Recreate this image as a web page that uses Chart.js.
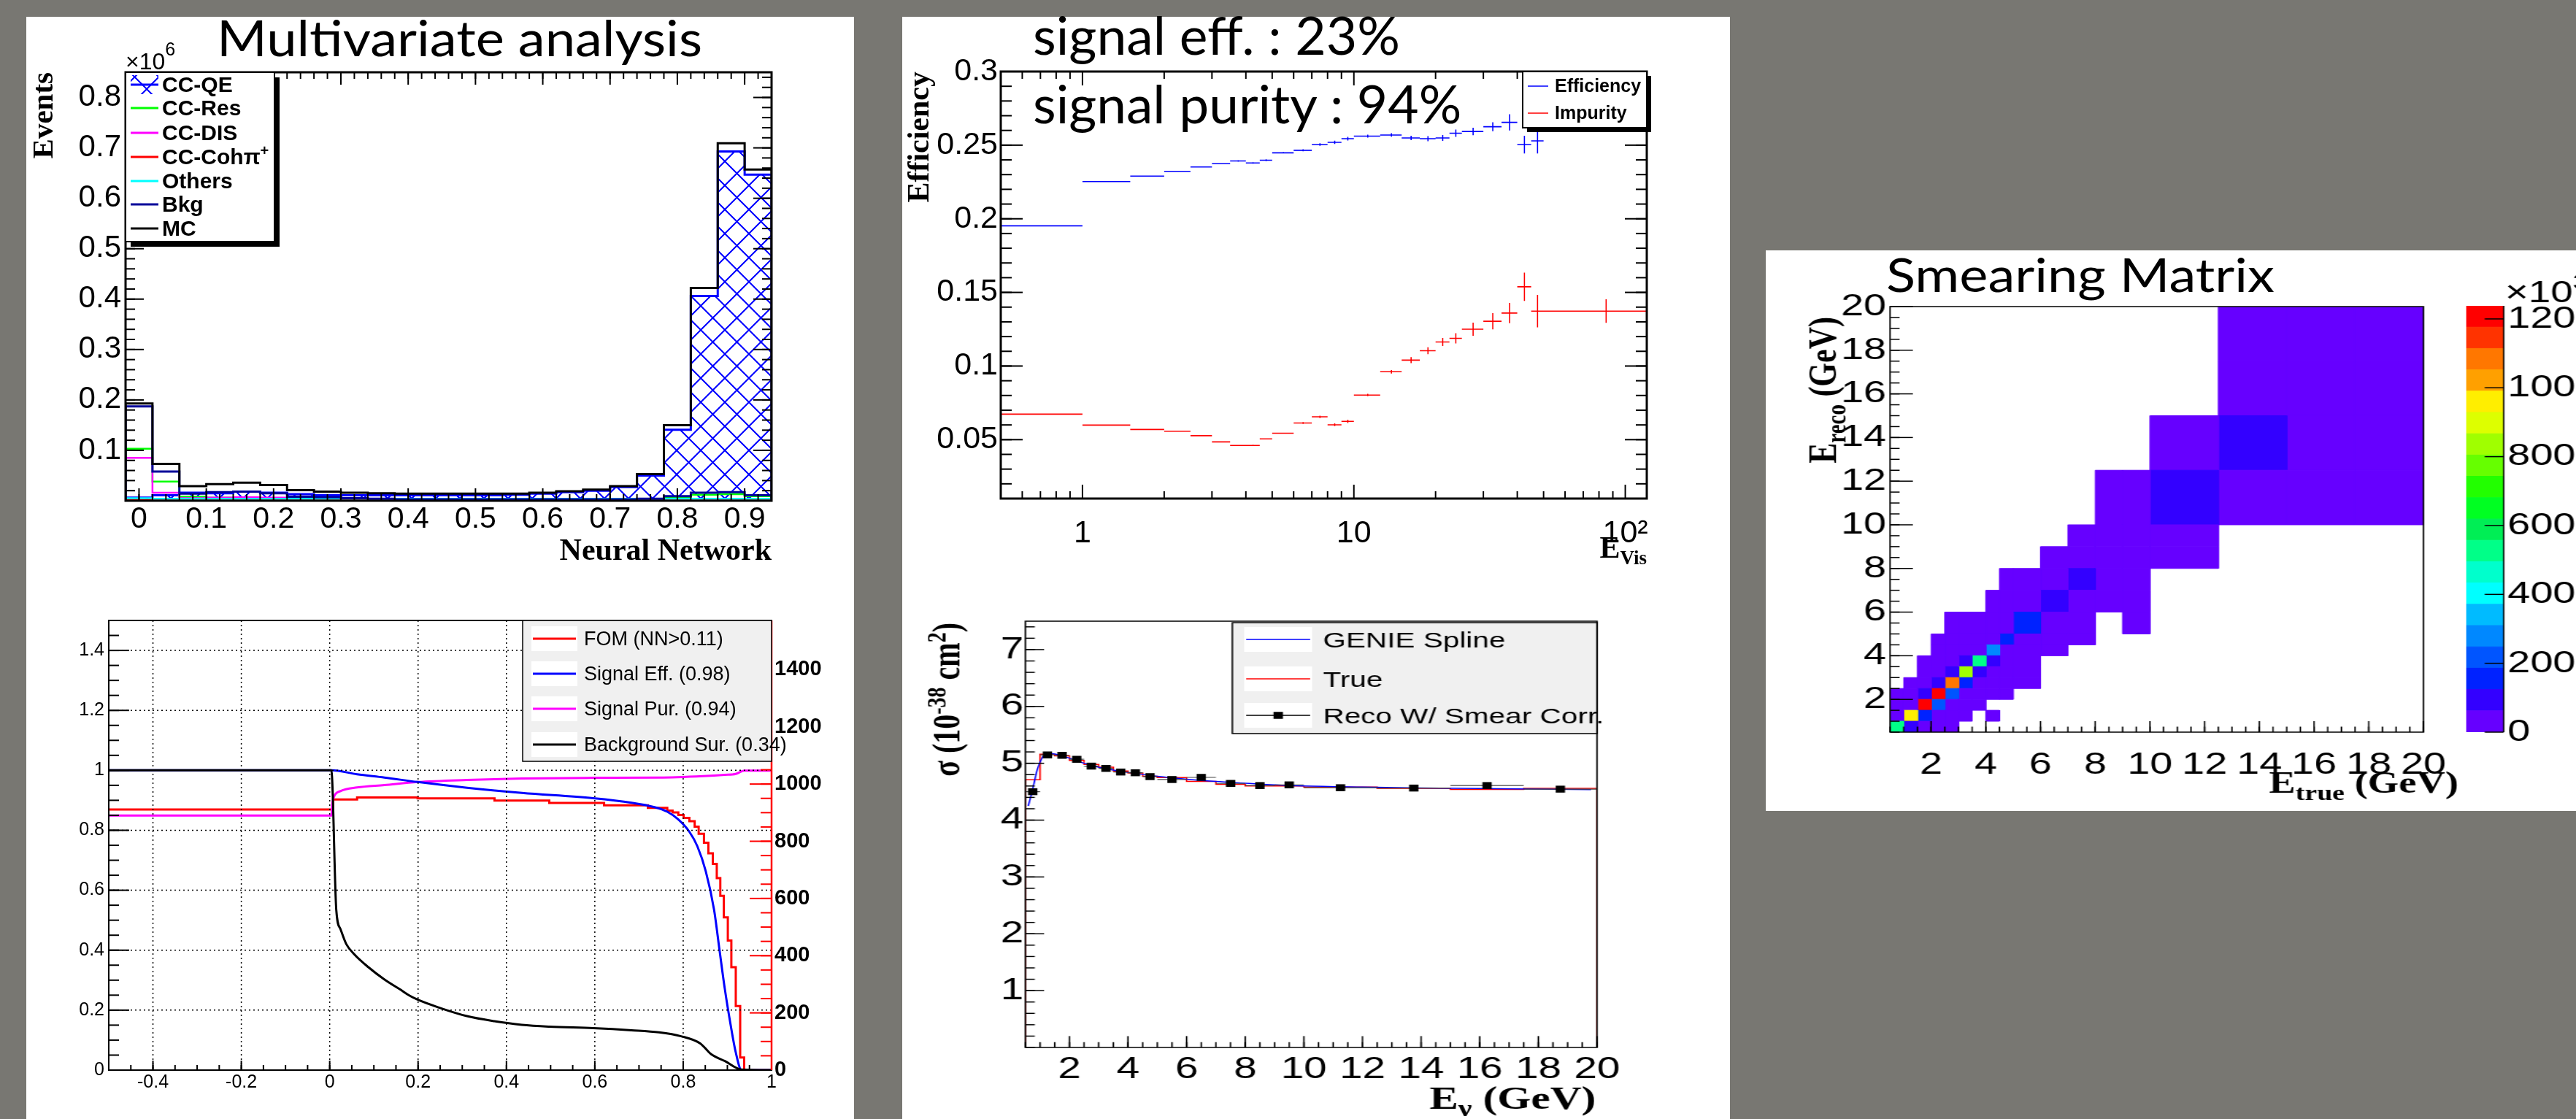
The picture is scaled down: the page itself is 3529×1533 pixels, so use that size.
<!DOCTYPE html>
<html>
<head>
<meta charset="utf-8">
<title>Multivariate analysis</title>
<script src="https://cdn.jsdelivr.net/npm/chart.js@4.4.1/dist/chart.umd.min.js"></script>
<style>
  html, body { margin: 0; padding: 0; }
  body { width: 3529px; height: 1533px; background: #787772; position: relative; overflow: hidden; }
  .panel { position: absolute; background: #fff; }
  .plot { position: absolute; transform-origin: 0 0; }
  .plot canvas { display: block; }
  .slide { position: absolute; white-space: nowrap; color: #000; font-family: Lato, "Open Sans", sans-serif;
           z-index: 5; transform-origin: 0 0; }
</style>
</head>
<body>
<div class="panel" style="left:36px;top:23px;width:1134px;height:1510px"></div>
<div class="panel" style="left:1236px;top:23px;width:1134px;height:1510px"></div>
<div class="panel" style="left:2419px;top:343px;width:1110px;height:768px"></div>

<div class="plot" style="left:36px;top:23px"><canvas id="nnHist" width="1134" height="767"></canvas></div>
<div class="plot" style="left:36px;top:776px"><canvas id="nnPerf" width="1134" height="757"></canvas></div>
<div class="plot" style="left:1236px;top:23px"><canvas id="effPlot" width="1134" height="767"></canvas></div>
<div class="plot" style="left:1236px;top:776px;transform:scaleX(1.35)"><canvas id="xsecPlot" width="840" height="757"></canvas></div>
<div class="plot" style="left:2419px;top:343px;transform:scaleX(1.3)"><canvas id="smearPlot" width="736" height="767"></canvas></div>
<div class="plot" style="left:3376px;top:343px;transform:scaleX(1.3)"><canvas id="smearScale" width="125" height="767"></canvas></div>

<script>
var SANS = '"Liberation Sans", Arial, sans-serif';
var NARROW = '"Liberation Sans Narrow", "Liberation Sans", Arial, sans-serif';
var SERIF = '"Liberation Serif", "Times New Roman", serif';
var SLIDE = 'Lato, "Open Sans", sans-serif';

// ---------- top left: neural network output (x10^6 events) ----------
var nnEdges = [-0.02, 0.02, 0.06, 0.10, 0.14, 0.18, 0.22, 0.26, 0.30, 0.34, 0.38, 0.42, 0.46,
               0.50, 0.54, 0.58, 0.62, 0.66, 0.70, 0.74, 0.78, 0.82, 0.86, 0.90, 0.94];
var mcEvents     = [0.193, 0.073, 0.029, 0.033, 0.036, 0.031, 0.021, 0.018, 0.016, 0.015, 0.014, 0.014,
                    0.014, 0.014, 0.014, 0.016, 0.019, 0.022, 0.029, 0.053, 0.150, 0.422, 0.709, 0.657];
var ccqeEvents   = [0.006, 0.011, 0.016, 0.015, 0.018, 0.016, 0.013, 0.011, 0.011, 0.011, 0.011, 0.011,
                    0.011, 0.011, 0.012, 0.014, 0.017, 0.020, 0.027, 0.050, 0.141, 0.406, 0.693, 0.647];
var bkgEvents    = [0.187, 0.058, 0.014, 0.017, 0.018, 0.015, 0.008, 0.007, 0.005, 0.004, 0.003, 0.003,
                    0.003, 0.003, 0.003, 0.003, 0.003, 0.003, 0.003, 0.004, 0.009, 0.016, 0.017, 0.011];
var ccresEvents  = [0.103, 0.038, 0.008, 0.006, 0.006, 0.005, 0.004, 0.003, 0.003, 0.002, 0.002, 0.002,
                    0.002, 0.002, 0.002, 0.002, 0.002, 0.002, 0.002, 0.003, 0.007, 0.012, 0.013, 0.009];
var ccdisEvents  = [0.085, 0.016, 0.005, 0.006, 0.007, 0.006, 0.003, 0.003, 0.002, 0.002, 0.002, 0.001,
                    0.001, 0.001, 0.001, 0.001, 0.001, 0.001, 0.001, 0.001, 0.001, 0.002, 0.002, 0.001];
var cccohEvents  = [0.002, 0.001, 0.001, 0.001, 0.001, 0.001, 0.001, 0.001, 0.001, 0.001, 0.001, 0.001,
                    0.001, 0.001, 0.001, 0.001, 0.001, 0.001, 0.001, 0.001, 0.001, 0.001, 0.001, 0.001];
var othersEvents = [0.005, 0.004, 0.004, 0.004, 0.004, 0.004, 0.004, 0.004, 0.004, 0.004, 0.004, 0.004,
                    0.004, 0.004, 0.004, 0.004, 0.004, 0.004, 0.004, 0.004, 0.004, 0.004, 0.004, 0.004];
var nnTicks = [0, 0.1, 0.2, 0.3, 0.4, 0.5, 0.6, 0.7, 0.8, 0.9];
var nnTickLabels = ['0', '0.1', '0.2', '0.3', '0.4', '0.5', '0.6', '0.7', '0.8', '0.9'];
var evTicks = [0.1, 0.2, 0.3, 0.4, 0.5, 0.6, 0.7, 0.8];
var evTickLabels = ['0.1', '0.2', '0.3', '0.4', '0.5', '0.6', '0.7', '0.8'];

// ---------- bottom left: cut performance vs NN cut ----------
var bkgSurX = [-0.5, 0.0037, 0.0149, 0.0248, 0.0373, 0.0559, 0.087, 0.1242, 0.1615, 0.1801, 0.1988, 0.2484,
               0.3106, 0.3727, 0.4348, 0.4969, 0.5963, 0.6832, 0.7453, 0.795, 0.8385, 0.8634, 0.8944, 0.9317, 1.0];
var bkgSurY = [1.0, 1.0, 0.534, 0.469, 0.421, 0.386, 0.344, 0.302, 0.267, 0.249, 0.235, 0.208,
               0.180, 0.163, 0.151, 0.145, 0.140, 0.133, 0.126, 0.113, 0.089, 0.053, 0.030, 0.002, 0.0];
var sigEffX = [-0.5, 0.004, 0.062, 0.124, 0.199, 0.311, 0.435, 0.596, 0.683, 0.733, 0.764, 0.789, 0.814,
               0.832, 0.851, 0.870, 0.882, 0.894, 0.907, 0.919, 0.932, 1.0];
var sigEffY = [1.0, 1.0, 0.987, 0.976, 0.961, 0.942, 0.925, 0.907, 0.892, 0.878, 0.862, 0.836, 0.795,
               0.747, 0.664, 0.534, 0.403, 0.273, 0.154, 0.059, 0.0, 0.0];
var sigPurX = [-0.5, 0.004, 0.006, 0.010, 0.025, 0.062, 0.124, 0.199, 0.311, 0.435, 0.596, 0.745, 0.845,
               0.894, 0.919, 0.938, 1.0];
var sigPurY = [0.849, 0.849, 0.890, 0.913, 0.931, 0.943, 0.951, 0.961, 0.968, 0.973, 0.975, 0.976, 0.981,
               0.985, 0.988, 0.999, 0.999];
var fomX = [-0.5, 0.004, 0.008, 0.062, 0.199, 0.373, 0.497, 0.621, 0.720, 0.764, 0.776, 0.789, 0.801, 0.814,
            0.826, 0.835, 0.847, 0.857, 0.867, 0.876, 0.884, 0.892, 0.901, 0.909, 0.919, 0.929, 0.938, 1.0];
var fomY = [911, 911, 946, 953, 950, 942, 934, 926, 917, 907, 901, 892, 882, 870,
            851, 826, 795, 758, 721, 671, 609, 534, 453, 360, 224, 44, 0, 0];
var cutTicks = [-0.4, -0.2, 0, 0.2, 0.4, 0.6, 0.8, 1];
var cutTickLabels = ['-0.4', '-0.2', '0', '0.2', '0.4', '0.6', '0.8', '1'];
var fracTicks = [0, 0.2, 0.4, 0.6, 0.8, 1, 1.2, 1.4];
var fracTickLabels = ['0', '0.2', '0.4', '0.6', '0.8', '1', '1.2', '1.4'];
var fomTicks = [0, 200, 400, 600, 800, 1000, 1200, 1400];
var fomTickLabels = ['0', '200', '400', '600', '800', '1000', '1200', '1400'];

// ---------- top middle: efficiency / impurity vs E_vis ----------
var effEdges = [0.5, 1, 1.5, 2, 2.5, 3, 3.5, 4, 4.5, 5, 6, 7, 8, 9, 10, 12.5, 15, 17.5, 20, 22.5, 25, 30, 35, 40, 45, 50, 120];
var efficiency = [0.1952, 0.2253, 0.2290, 0.2322, 0.2352, 0.2374, 0.2393, 0.2379, 0.2398, 0.2448, 0.2465, 0.2504, 0.2519,
                  0.2544, 0.2561, 0.2569, 0.2549, 0.2544, 0.2549, 0.2581, 0.2593, 0.2625, 0.2655, 0.2504, 0.2529, 0.2720];
var efficiencyErr = [0.0003, 0.0003, 0.0003, 0.0003, 0.0004, 0.0004, 0.0005, 0.0005, 0.0006, 0.0005, 0.0007, 0.0009, 0.0011,
                     0.0012, 0.0010, 0.0012, 0.0015, 0.0017, 0.0020, 0.0025, 0.0025, 0.0030, 0.0055, 0.0060, 0.0085, 0.0060];
var impurity = [0.0673, 0.0599, 0.0569, 0.0557, 0.0527, 0.0485, 0.0461, 0.0461, 0.0505, 0.0544, 0.0613, 0.0655, 0.0601,
                0.0624, 0.0803, 0.0961, 0.1040, 0.1104, 0.1163, 0.1188, 0.1250, 0.1304, 0.1360, 0.1538, 0.1373, 0.1373];
var impurityErr = [0.0002, 0.0002, 0.0002, 0.0002, 0.0003, 0.0003, 0.0003, 0.0004, 0.0004, 0.0004, 0.0006, 0.0008, 0.0009,
                   0.0011, 0.0008, 0.0012, 0.0020, 0.0024, 0.0027, 0.0035, 0.0045, 0.0055, 0.0069, 0.0096, 0.0110, 0.0080];
var evisTicks = [1, 10, 100];
var evisTickLabels = ['1', '10', '10\u00b2'];
var effTicks = [0.05, 0.1, 0.15, 0.2, 0.25, 0.3];
var effTickLabels = ['0.05', '0.1', '0.15', '0.2', '0.25', '0.3'];

// ---------- bottom middle: cross section ----------
var xsEdges = [0.5, 1, 1.5, 2, 2.5, 3, 3.5, 4, 4.5, 5, 6, 7, 8, 9, 10, 12.5, 15, 17.5, 20];
var xsTrue = [4.71, 5.16, 5.13, 5.05, 4.98, 4.93, 4.865, 4.83, 4.77, 4.75, 4.68, 4.63, 4.60, 4.60, 4.58, 4.56, 4.54, 4.56];
var xsReco = [4.50, 5.147, 5.14, 5.07, 4.95, 4.91, 4.846, 4.833, 4.765, 4.714, 4.752, 4.646, 4.608, 4.62, 4.57, 4.564, 4.608, 4.545];
var xsRecoErr = [0.03, 0.02, 0.02, 0.02, 0.02, 0.02, 0.02, 0.02, 0.02, 0.02, 0.02, 0.02, 0.02, 0.02, 0.02, 0.02, 0.03, 0.03];
var splineE = [0.6, 0.7, 0.8, 0.9, 1.0, 1.1, 1.2, 1.4, 1.7, 2.0, 2.5, 3.0, 3.5, 4.0, 5.0, 6.0, 7.0, 8.0, 9.0, 10, 12, 14, 16, 18, 19.8];
var splineXs = [4.25, 4.45, 4.66, 4.88, 5.02, 5.12, 5.17, 5.17, 5.14, 5.09, 5.00, 4.93, 4.88, 4.84, 4.77, 4.72, 4.68, 4.65,
                4.62, 4.60, 4.58, 4.565, 4.555, 4.545, 4.535];
var enuTicks = [2, 4, 6, 8, 10, 12, 14, 16, 18, 20];
var enuTickLabels = ['2', '4', '6', '8', '10', '12', '14', '16', '18', '20'];
var sigmaTicks = [1, 2, 3, 4, 5, 6, 7];
var sigmaTickLabels = ['1', '2', '3', '4', '5', '6', '7'];

// ---------- right: smearing matrix (x10^3), rows = E_reco bins, columns = E_true bins ----------
var smEdges = [0.5, 1, 1.5, 2, 2.5, 3, 3.5, 4, 4.5, 5, 6, 7, 8, 9, 10, 12.5, 15, 17.5, 20];
var smearing = [
  [530,  90,   30,   30,   30,   0,   0,   0,   0,   0,   0,  0,  0,  0,  0,  0,  0,  0],
  [30,   960,  150,  30,   30,   30,  0,   30,  0,   0,   0,  0,  0,  0,  0,  0,  0,  0],
  [30,   30,   1230, 210,  30,   30,  30,  0,   0,   0,   0,  0,  0,  0,  0,  0,  0,  0],
  [30,   30,   90,   1200, 210,  30,  30,  30,  30,  0,   0,  0,  0,  0,  0,  0,  0,  0],
  [0,    30,   30,   90,   1080, 150, 30,  30,  30,  30,  0,  0,  0,  0,  0,  0,  0,  0],
  [0,    0,    30,   30,   90,   830, 90,  30,  30,  30,  0,  0,  0,  0,  0,  0,  0,  0],
  [0,    0,    30,   30,   30,   90,  540, 90,  30,  30,  0,  0,  0,  0,  0,  0,  0,  0],
  [0,    0,    0,    30,   30,   30,  30,  280, 30,  30,  30, 0,  0,  0,  0,  0,  0,  0],
  [0,    0,    0,    30,   30,   30,  30,  30,  150, 30,  30, 30, 0,  0,  0,  0,  0,  0],
  [0,    0,    0,    0,    30,   30,  30,  30,  30,  150, 30, 30, 0,  30, 0,  0,  0,  0],
  [0,    0,    0,    0,    0,    0,   0,   30,  30,  30,  90, 30, 30, 30, 0,  0,  0,  0],
  [0,    0,    0,    0,    0,    0,   0,   0,   30,  30,  30, 90, 30, 30, 0,  0,  0,  0],
  [0,    0,    0,    0,    0,    0,   0,   0,   0,   0,   30, 30, 30, 30, 30, 0,  0,  0],
  [0,    0,    0,    0,    0,    0,   0,   0,   0,   0,   0,  30, 30, 30, 30, 0,  0,  0],
  [0,    0,    0,    0,    0,    0,   0,   0,   0,   0,   0,  0,  30, 30, 90, 30, 30, 30],
  [0,    0,    0,    0,    0,    0,   0,   0,   0,   0,   0,  0,  0,  0,  30, 90, 30, 30],
  [0,    0,    0,    0,    0,    0,   0,   0,   0,   0,   0,  0,  0,  0,  0,  30, 30, 30],
  [0,    0,    0,    0,    0,    0,   0,   0,   0,   0,   0,  0,  0,  0,  0,  30, 30, 30]
];
var smearMax = 1238;
var palette = ['#6600ff', '#3300ff', '#0022ff', '#0055ff', '#0088ff', '#00bbff', '#00ffff', '#00ffcc', '#00ff88', '#00ee55',
               '#00ff22', '#22ff00', '#66ff00', '#a0ff00', '#ddff00', '#ffee00', '#ffa000', '#ff7700', '#ff3300', '#ff0000'];
var energyTicks = [2, 4, 6, 8, 10, 12, 14, 16, 18, 20];
var energyTickLabels = ['2', '4', '6', '8', '10', '12', '14', '16', '18', '20'];
var zTicks = [0, 200, 400, 600, 800, 1000, 1200];
var zTickLabels = ['0', '200', '400', '600', '800', '1000', '1200'];

// ---------- helpers ----------
function seg(ctx, x0, y0, x1, y1) {
    ctx.beginPath();
    ctx.moveTo(x0, y0);
    ctx.lineTo(x1, y1);
    ctx.stroke();
}

function steps(from, to, step) {
    var out = [];
    for (var i = 0; ; i++) {
        var v = from + i * step;
        if (v > to + 1e-9) break;
        out.push(+v.toFixed(6));
    }
    return out;
}

function logMinor(min, max) {
    var out = [];
    for (var d = 0.1; d < max; d *= 10) {
        for (var k = 2; k <= 9; k++) {
            var v = +(k * d).toPrecision(6);
            if (v >= min && v <= max) out.push(v);
        }
    }
    return out;
}

function xy(xs, ys) {
    return xs.map(function (x, i) { return {x: x, y: ys[i]}; });
}

function histPoints(edges, vals) {
    var pts = [{x: edges[0], y: 0}];
    for (var i = 0; i < vals.length; i++) pts.push({x: edges[i], y: vals[i]});
    pts.push({x: edges[edges.length - 1], y: vals[vals.length - 1]});
    pts.push({x: edges[edges.length - 1], y: 0});
    return pts;
}

function histSet(edges, vals, color, lw) {
    return {data: histPoints(edges, vals), borderColor: color, borderWidth: lw, stepped: 'before',
            pointRadius: 0, fill: false, borderJoinStyle: 'miter'};
}

function centers(edges) {
    var c = [];
    for (var i = 0; i < edges.length - 1; i++) c.push((edges[i] + edges[i + 1]) / 2);
    return c;
}

function errorBarPoints(edges, val, err) {
    var pts = [];
    for (var i = 0; i < val.length; i++) {
        var c = (edges[i] + edges[i + 1]) / 2;
        pts.push({x: edges[i], y: val[i]}, {x: edges[i + 1], y: val[i]}, {x: edges[i + 1], y: null});
        pts.push({x: c, y: val[i] - err[i]}, {x: c, y: val[i] + err[i]}, {x: c, y: null});
    }
    return pts;
}

// closed rectangle outline, filled as a shape
function boxSet(x0, x1, y0, y1, color) {
    return {data: [{x: x0, y: y0}, {x: x0, y: y1}, {x: x1, y: y1}, {x: x1, y: y0}, {x: x0, y: y0}],
            fill: 'shape', backgroundColor: color, borderColor: color, borderWidth: 1, pointRadius: 0};
}

function hatch(color, step, lw) {
    var c = document.createElement('canvas');
    c.width = step;
    c.height = step;
    var g = c.getContext('2d');
    g.strokeStyle = color;
    g.lineWidth = lw;
    g.beginPath();
    g.moveTo(0, 0); g.lineTo(step, step);
    g.moveTo(step, 0); g.lineTo(0, step);
    g.stroke();
    return g.createPattern(c, 'repeat');
}

function drawParts(ctx, parts, x, y, align, rot) {
    ctx.save();
    ctx.translate(x, y);
    if (rot) ctx.rotate(rot);
    var total = 0;
    parts.forEach(function (p) { ctx.font = p.font; total += ctx.measureText(p.t).width; });
    var cx = align === 'right' ? -total : (align === 'center' ? -total / 2 : 0);
    ctx.textAlign = 'left';
    ctx.textBaseline = 'alphabetic';
    ctx.fillStyle = '#000';
    parts.forEach(function (p) {
        ctx.font = p.font;
        ctx.fillText(p.t, cx, p.dy || 0);
        cx += ctx.measureText(p.t).width;
    });
    ctx.restore();
}

function axis(o) {
    return {
        type: o.type || 'linear',
        position: o.position,
        min: o.min,
        max: o.max,
        afterBuildTicks: function (s) { s.ticks = o.ticks.map(function (v) { return {value: v}; }); },
        afterFit: function (s) { if (o.horizontal) s.height = o.fit; else s.width = o.fit; },
        grid: {display: false, drawTicks: false},
        border: {display: false},
        ticks: {
            autoSkip: false, maxRotation: 0, minRotation: 0, padding: o.pad, color: '#000',
            font: {family: o.family || SANS, size: o.size, weight: o.weight || 'normal'},
            callback: function (v, i) { return o.labels[i]; }
        },
        title: o.title ? {
            display: true, text: o.title, align: 'end', color: '#000',
            font: {family: SERIF, size: o.titleSize, weight: 'bold'},
            padding: {top: o.titlePad, bottom: o.titlePad}
        } : {display: false}
    };
}

function framePlugin(cfg) {
    return {
        id: 'rootFrame',
        afterDatasetsDraw: function (chart) {
            var ctx = chart.ctx, a = chart.chartArea;
            ctx.save();
            if (cfg.grid) {
                ctx.strokeStyle = '#000';
                ctx.lineWidth = cfg.grid.width;
                ctx.setLineDash(cfg.grid.dash);
                cfg.grid.x.forEach(function (v) { var p = chart.scales.x.getPixelForValue(v); seg(ctx, p, a.top, p, a.bottom); });
                cfg.grid.y.forEach(function (v) { var p = chart.scales.y.getPixelForValue(v); seg(ctx, a.left, p, a.right, p); });
                ctx.setLineDash([]);
            }
            cfg.axes.forEach(function (ax) {
                var s = chart.scales[ax.scale];
                ctx.strokeStyle = ax.color || '#000';
                ctx.lineWidth = ax.width || 2;
                [[ax.major, ax.majorLen], [ax.minor || [], ax.minorLen]].forEach(function (g) {
                    g[0].forEach(function (v) {
                        var p = s.getPixelForValue(v);
                        if (ax.side === 'bottom') {
                            if (p < a.left - 0.5 || p > a.right + 0.5) return;
                            seg(ctx, p, a.bottom, p, a.bottom - g[1]);
                            if (ax.mirror) seg(ctx, p, a.top, p, a.top + g[1]);
                        } else if (ax.side === 'left') {
                            if (p < a.top - 0.5 || p > a.bottom + 0.5) return;
                            seg(ctx, a.left, p, a.left + g[1], p);
                            if (ax.mirror) seg(ctx, a.right, p, a.right - g[1], p);
                        } else {
                            if (p < a.top - 0.5 || p > a.bottom + 0.5) return;
                            seg(ctx, a.right, p, a.right - g[1], p);
                        }
                    });
                });
            });
            if (cfg.frame) {
                ctx.strokeStyle = '#000';
                ctx.lineWidth = cfg.frame;
                ctx.strokeRect(a.left, a.top, a.right - a.left, a.bottom - a.top);
            }
            if (cfg.rightLine) {
                ctx.strokeStyle = cfg.rightLine.color;
                ctx.lineWidth = cfg.rightLine.width;
                seg(ctx, a.right, a.top, a.right, a.bottom);
            }
            ctx.restore();
        }
    };
}

function legendPlugin(cfg) {
    return {
        id: 'rootLegend',
        afterDraw: function (chart) {
            var ctx = chart.ctx, b = cfg.box, s = cfg.sample;
            ctx.save();
            if (cfg.shadow) {
                ctx.fillStyle = '#000';
                ctx.fillRect(b[0] + cfg.shadow, b[1] + cfg.shadow, b[2], b[3]);
            }
            ctx.fillStyle = cfg.fill;
            ctx.fillRect(b[0], b[1], b[2], b[3]);
            ctx.strokeStyle = '#000';
            ctx.lineWidth = cfg.border;
            ctx.strokeRect(b[0], b[1], b[2], b[3]);
            cfg.rows.forEach(function (r) {
                if (cfg.sampleBox) {
                    ctx.fillStyle = '#fff';
                    ctx.fillRect(s[0] - 2, r.y - cfg.sampleBox / 2, s[1] - s[0] + 4, cfg.sampleBox);
                }
                if (r.hatch) {
                    ctx.fillStyle = r.hatch;
                    ctx.fillRect(s[0], r.y - 13, s[1] - s[0], 26);
                }
                ctx.strokeStyle = r.color;
                ctx.lineWidth = r.width;
                seg(ctx, s[0], r.y, s[1], r.y);
                if (r.marker) {
                    ctx.fillStyle = r.color;
                    var mx = (s[0] + s[1]) / 2;
                    ctx.fillRect(mx - r.marker / 2, r.y - r.marker / 2, r.marker, r.marker);
                }
                var parts = r.parts || [{t: r.label, font: cfg.font}];
                drawParts(ctx, parts, cfg.textX, r.y + cfg.baselineShift, 'left', 0);
            });
            ctx.restore();
        }
    };
}

function textPlugin(items) {
    return {
        id: 'rootText',
        afterDraw: function (chart) {
            items.forEach(function (it) { drawParts(chart.ctx, it.parts, it.x, it.y, it.align, it.rot); });
        }
    };
}

function baseOptions(padding, scales) {
    return {
        responsive: false, animation: false, devicePixelRatio: 1, events: [],
        layout: {padding: padding},
        plugins: {legend: {display: false}, tooltip: {enabled: false}},
        scales: scales
    };
}

Chart.defaults.color = '#000';
Chart.defaults.font.family = SANS;

// ---------- top left chart ----------
var qeHatch = hatch('#0000ff', 33, 2);
var qeSet = histSet(nnEdges, ccqeEvents, '#0000ff', 3);
qeSet.fill = 'origin';
qeSet.backgroundColor = qeHatch;

new Chart(document.getElementById('nnHist'), {
    type: 'line',
    data: {datasets: [
        histSet(nnEdges, mcEvents, '#000000', 3),
        histSet(nnEdges, bkgEvents, '#000099', 3),
        histSet(nnEdges, othersEvents, '#00ffff', 2.5),
        histSet(nnEdges, cccohEvents, '#ff0000', 2.5),
        histSet(nnEdges, ccdisEvents, '#ff00ff', 2.5),
        histSet(nnEdges, ccresEvents, '#00ff00', 2.5),
        qeSet
    ]},
    options: baseOptions({top: 76, right: 113, bottom: 0, left: 0}, {
        x: axis({min: -0.02, max: 0.94, ticks: nnTicks, labels: nnTickLabels, size: 41, pad: 1, fit: 104, horizontal: true,
                 title: 'Neural Network', titleSize: 42, titlePad: 9}),
        y: axis({min: 0, max: 0.85, ticks: evTicks, labels: evTickLabels, size: 42, pad: 6, fit: 136,
                 title: 'Events', titleSize: 41, titlePad: 1})
    }),
    plugins: [
        framePlugin({frame: 3, axes: [
            {scale: 'x', side: 'bottom', major: nnTicks, minor: steps(-0.02, 0.94, 0.02), majorLen: 17, minorLen: 9, mirror: true},
            {scale: 'y', side: 'left', major: steps(0, 0.8, 0.1), minor: steps(0, 0.85, 0.02), majorLen: 25, minorLen: 13, mirror: true}
        ]}),
        legendPlugin({box: [136, 76, 204, 232], shadow: 7, fill: '#fff', border: 2, sample: [143, 181], textX: 186,
            baselineShift: 10, font: 'bold 30px ' + NARROW, rows: [
                {y: 93, label: 'CC-QE', color: '#0000ff', width: 3, hatch: qeHatch},
                {y: 125, label: 'CC-Res', color: '#00ff00', width: 3},
                {y: 159, label: 'CC-DIS', color: '#ff00ff', width: 3},
                {y: 192, color: '#ff0000', width: 3, parts: [{t: 'CC-Coh\u03c0', font: 'bold 30px ' + NARROW},
                                                             {t: '+', font: 'bold 20px ' + NARROW, dy: -12}]},
                {y: 225, label: 'Others', color: '#00ffff', width: 3},
                {y: 257, label: 'Bkg', color: '#000099', width: 3},
                {y: 290, label: 'MC', color: '#000000', width: 3}
            ]}),
        textPlugin([{x: 136, y: 72, align: 'left', parts: [{t: '\u00d710', font: '32px ' + SANS},
                                                           {t: '6', font: '25px ' + SANS, dy: -19}]}])
    ]
});

// ---------- bottom left chart ----------
var fomSet = {data: xy(fomX, fomY), yAxisID: 'y2', borderColor: '#ff0000', borderWidth: 3, stepped: 'before', pointRadius: 0, fill: false};
new Chart(document.getElementById('nnPerf'), {
    type: 'line',
    data: {datasets: [
        {data: xy(bkgSurX, bkgSurY), borderColor: '#000000', borderWidth: 3, pointRadius: 0, fill: false, cubicInterpolationMode: 'monotone'},
        {data: xy(sigEffX, sigEffY), borderColor: '#0000ff', borderWidth: 3, pointRadius: 0, fill: false, cubicInterpolationMode: 'monotone'},
        {data: xy(sigPurX, sigPurY), borderColor: '#ff00ff', borderWidth: 3, pointRadius: 0, fill: false, cubicInterpolationMode: 'monotone'},
        fomSet
    ]},
    options: baseOptions({top: 74, right: 0, bottom: 0, left: 0}, {
        x: axis({min: -0.5, max: 1, ticks: cutTicks, labels: cutTickLabels, size: 25, pad: 2, fit: 67, horizontal: true}),
        y: axis({min: 0, max: 1.5, ticks: fracTicks, labels: fracTickLabels, size: 25, pad: 6, fit: 113}),
        y2: axis({position: 'right', min: 0, max: 1572, ticks: fomTicks, labels: fomTickLabels, size: 29, weight: 'bold', pad: 4, fit: 113})
    }),
    plugins: [
        framePlugin({frame: 2,
            grid: {width: 1.5, dash: [2, 4], x: [-0.4, -0.2, 0, 0.2, 0.4, 0.6, 0.8], y: [0.2, 0.4, 0.6, 0.8, 1, 1.2, 1.4]},
            axes: [
                {scale: 'x', side: 'bottom', major: cutTicks, minor: steps(-0.5, 1, 0.05), majorLen: 13, minorLen: 7},
                {scale: 'y', side: 'left', major: fracTicks, minor: steps(0, 1.5, 0.05), majorLen: 28, minorLen: 14},
                {scale: 'y2', side: 'right', major: fomTicks, minor: steps(0, 1550, 50), majorLen: 30, minorLen: 15, color: '#ff0000'}
            ],
            rightLine: {color: '#ff0000', width: 2.5}}),
        legendPlugin({box: [680, 74, 341, 193], shadow: 0, fill: '#f0f0f0', border: 1.5, sample: [694, 753], sampleBox: 34,
            textX: 764, baselineShift: 9, font: '27px ' + NARROW, rows: [
                {y: 99, label: 'FOM (NN>0.11)', color: '#ff0000', width: 3},
                {y: 147, label: 'Signal Eff. (0.98)', color: '#0000ff', width: 3},
                {y: 195, label: 'Signal Pur. (0.94)', color: '#ff00ff', width: 3},
                {y: 244, label: 'Background Sur. (0.34)', color: '#000000', width: 3}
            ]})
    ]
});

// ---------- top middle chart ----------
new Chart(document.getElementById('effPlot'), {
    type: 'line',
    data: {datasets: [
        {data: errorBarPoints(effEdges, efficiency, efficiencyErr), borderColor: '#0000ff', borderWidth: 1.6, pointRadius: 0, fill: false},
        {data: errorBarPoints(effEdges, impurity, impurityErr), borderColor: '#ff0000', borderWidth: 1.6, pointRadius: 0, fill: false}
    ]},
    options: baseOptions({top: 75, right: 114, bottom: 0, left: 0}, {
        x: axis({type: 'logarithmic', min: 0.5, max: 120, ticks: evisTicks, labels: evisTickLabels, size: 43, pad: 22, fit: 107, horizontal: true}),
        y: axis({min: 0.01, max: 0.3, ticks: effTicks, labels: effTickLabels, size: 43, pad: 4, fit: 135,
                 title: 'Efficiency', titleSize: 42, titlePad: 0})
    }),
    plugins: [
        framePlugin({frame: 3, axes: [
            {scale: 'x', side: 'bottom', major: evisTicks, minor: logMinor(0.5, 120), majorLen: 19, minorLen: 10, mirror: true},
            {scale: 'y', side: 'left', major: effTicks, minor: steps(0.01, 0.3, 0.01), majorLen: 30, minorLen: 15, mirror: true}
        ]}),
        legendPlugin({box: [850, 75, 170, 77], shadow: 6, fill: '#fff', border: 2, sample: [857, 885], textX: 894,
            baselineShift: 8, font: 'bold 25px ' + NARROW, rows: [
                {y: 95, label: 'Efficiency', color: '#0000ff', width: 1.5},
                {y: 132, label: 'Impurity', color: '#ff0000', width: 1.5}
            ]}),
        textPlugin([{x: 1020, y: 741, align: 'right', parts: [{t: 'E', font: 'bold 42px ' + SERIF},
                                                              {t: 'Vis', font: 'bold 27px ' + SERIF, dy: 9}]}])
    ]
});

// ---------- bottom middle chart (drawn narrow, stretched by CSS like the slide) ----------
var xsCenters = centers(xsEdges);
new Chart(document.getElementById('xsecPlot'), {
    type: 'line',
    data: {datasets: [
        {data: xy(xsCenters, xsReco), showLine: false, pointStyle: 'rect', pointRadius: 6.7, pointBackgroundColor: '#000',
         pointBorderWidth: 0, fill: false},
        {data: errorBarPoints(xsEdges, xsReco, xsRecoErr), borderColor: '#444', borderWidth: 1.2, pointRadius: 0, fill: false},
        {data: xy(splineE, splineXs), borderColor: '#0000ff', borderWidth: 1.5, pointRadius: 0, fill: false, cubicInterpolationMode: 'monotone'},
        histSet(xsEdges, xsTrue, '#ff0000', 1.5)
    ]},
    options: baseOptions({top: 75, right: 135, bottom: 0, left: 0}, {
        x: axis({min: 0.5, max: 20, ticks: enuTicks, labels: enuTickLabels, size: 42, pad: 5, fit: 98, horizontal: true}),
        y: axis({min: 0, max: 7.5, ticks: sigmaTicks, labels: sigmaTickLabels, size: 42, pad: 2, fit: 125})
    }),
    plugins: [
        framePlugin({frame: 1.5, axes: [
            {scale: 'x', side: 'bottom', major: enuTicks, minor: steps(0.5, 20, 0.5), majorLen: 15.6, minorLen: 7.3, width: 1.5},
            {scale: 'y', side: 'left', major: sigmaTicks, minor: steps(0, 7.5, 0.2), majorLen: 19, minorLen: 9.5, width: 1.5}
        ]}),
        legendPlugin({box: [335, 77, 370, 152], shadow: 0, fill: '#f0f0f0', border: 1.5, sample: [349, 414], sampleBox: 34,
            textX: 427, baselineShift: 11, font: '30px ' + SANS, rows: [
                {y: 100, label: 'GENIE Spline', color: '#0000ff', width: 1.5},
                {y: 154, label: 'True', color: '#ff0000', width: 1.5},
                {y: 204, label: 'Reco W/ Smear Corr.', color: '#000000', width: 1.5, marker: 9.5}
            ]}),
        textPlugin([
            {x: 704, y: 743, align: 'right', parts: [{t: 'E', font: 'bold 44px ' + SERIF}, {t: '\u03bd', font: 'bold 31px ' + SERIF, dy: 10},
                                                     {t: ' (GeV)', font: 'bold 44px ' + SERIF}]},
            {x: 58, y: 77, align: 'right', rot: -Math.PI / 2, parts: [
                {t: '\u03c3 (10', font: 'bold 40px ' + SERIF}, {t: '-38', font: 'bold 28px ' + SERIF, dy: -14},
                {t: ' cm', font: 'bold 40px ' + SERIF}, {t: '2', font: 'bold 28px ' + SERIF, dy: -14},
                {t: ')', font: 'bold 40px ' + SERIF}]}
        ])
    ]
});

// ---------- right: smearing matrix ----------
var cellSets = [];
smearing.forEach(function (row, r) {
    row.forEach(function (z, c) {
        if (!z) return;
        var lvl = Math.min(palette.length - 1, Math.floor(z / smearMax * palette.length));
        cellSets.push(boxSet(smEdges[c], smEdges[c + 1], smEdges[r], smEdges[r + 1], palette[lvl]));
    });
});
new Chart(document.getElementById('smearPlot'), {
    type: 'line',
    data: {datasets: cellSets},
    options: baseOptions({top: 77, right: 3, bottom: 0, left: 0}, {
        x: axis({min: 0.5, max: 20, ticks: energyTicks, labels: energyTickLabels, size: 43, pad: 19, fit: 107, horizontal: true}),
        y: axis({min: 0.5, max: 20, ticks: energyTicks, labels: energyTickLabels, size: 43, pad: 4, fit: 131})
    }),
    plugins: [
        framePlugin({frame: 1.5, axes: [
            {scale: 'x', side: 'bottom', major: energyTicks, minor: steps(0.5, 20, 0.5), majorLen: 15, minorLen: 7.5, width: 1.5},
            {scale: 'y', side: 'left', major: energyTicks, minor: steps(0.5, 20, 0.5), majorLen: 24, minorLen: 10, width: 1.5}
        ]}),
        textPlugin([
            {x: 730, y: 743, align: 'right', parts: [{t: 'E', font: 'bold 42px ' + SERIF}, {t: 'true', font: 'bold 29px ' + SERIF, dy: 10},
                                                     {t: ' (GeV)', font: 'bold 42px ' + SERIF}]},
            {x: 74, y: 91, align: 'right', rot: -Math.PI / 2, parts: [
                {t: 'E', font: 'bold 42px ' + SERIF}, {t: 'reco', font: 'bold 29px ' + SERIF, dy: 10},
                {t: ' (GeV)', font: 'bold 42px ' + SERIF}]}
        ])
    ]
});

var bandSets = palette.map(function (col, k) {
    return boxSet(0, 1, smearMax * k / palette.length, smearMax * (k + 1) / palette.length, col);
});
new Chart(document.getElementById('smearScale'), {
    type: 'line',
    data: {datasets: bandSets},
    options: baseOptions({top: 76, right: 0, bottom: 107, left: 2}, {
        x: {type: 'linear', min: 0, max: 1, display: false},
        y: axis({position: 'right', min: 0, max: smearMax, ticks: zTicks, labels: zTickLabels, size: 43, pad: 4, fit: 83.5})
    }),
    plugins: [
        framePlugin({frame: 0, axes: [{scale: 'y', side: 'right', major: zTicks, majorLen: 20, width: 1.5}],
                     rightLine: {color: '#000', width: 1.5}}),
        textPlugin([{x: 43, y: 71, align: 'left', parts: [{t: '\u00d710', font: '42px ' + SANS}, {t: '3', font: '30px ' + SANS, dy: -18}]}])
    ]
});

// ---------- slide titles: sized by letter height, squeezed to the slide's width ----------
function slideText(text, left, baseline, inkWidth, size) {
    var m = document.createElement('canvas').getContext('2d');
    m.font = size + 'px ' + SLIDE;
    var tm = m.measureText(text);
    var el = document.createElement('div');
    el.className = 'slide';
    el.textContent = text;
    el.style.fontSize = size + 'px';
    el.style.lineHeight = (tm.fontBoundingBoxAscent + tm.fontBoundingBoxDescent) + 'px';
    el.style.left = left + 'px';
    el.style.top = (baseline - tm.fontBoundingBoxAscent) + 'px';
    el.style.transform = 'scaleX(' + (inkWidth / tm.width) + ')';
    document.body.appendChild(el);
}
slideText('Multivariate analysis', 297, 77, 665, 67);
slideText('signal eff. : 23%', 1415, 75, 503, 71);
slideText('signal purity : 94%', 1415, 169, 589, 71);
slideText('Smearing Matrix', 2584, 400, 532, 64);
</script>
</body>
</html>
